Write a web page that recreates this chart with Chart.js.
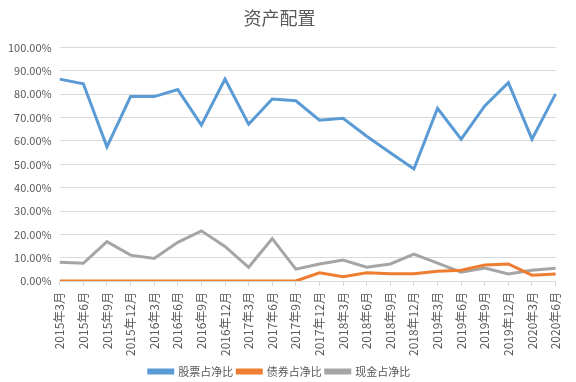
<!DOCTYPE html>
<html>
<head>
<meta charset="utf-8">
<script src="https://cdn.jsdelivr.net/npm/chart.js@4/dist/chart.umd.min.js"></script>
<style>
  html, body { margin: 0; padding: 0; background: #fff; }
  #wrap { width: 576px; height: 382px; }
</style>
</head>
<body>
<div id="wrap"><canvas id="chartCanvas" width="576" height="382"></canvas></div>
<script>
// quarters on the x axis
const categories = [
  '2015年3月', '2015年6月', '2015年9月', '2015年12月',
  '2016年3月', '2016年6月', '2016年9月', '2016年12月',
  '2017年3月', '2017年6月', '2017年9月', '2017年12月',
  '2018年3月', '2018年6月', '2018年9月', '2018年12月',
  '2019年3月', '2019年6月', '2019年9月', '2019年12月',
  '2020年3月', '2020年6月'
];

// values in percent
const stockRatio = [86.5, 84.5, 57.5, 79, 79, 82, 66.8, 86.5, 67.2, 78, 77.2,
  68.9, 69.7, 62, 55, 48, 74, 60.8, 75, 85, 60.8, 80.2];
const bondRatio = [0, 0, 0, 0, 0, 0, 0, 0, 0, 0, 0,
  3.5, 1.8, 3.5, 3.1, 3.1, 4.2, 4.6, 6.9, 7.3, 2.5, 3.0];
const cashRatio = [8.0, 7.6, 16.9, 11.1, 9.7, 16.6, 21.5, 14.8, 5.9, 18.2, 5.1,
  7.3, 9.0, 5.9, 7.3, 11.5, 7.7, 3.8, 5.6, 3.0, 4.6, 5.5];

const seriesNames = ['股票占净比', '债券占净比', '现金占净比'];
const colors = ['#5B9BD5', '#ED7D31', '#A5A5A5'];

const font = "'Noto Sans CJK SC', 'Liberation Sans', sans-serif";
const textColor = '#595959';

function makeSet(label, data, color) {
  return {
    label: label,
    data: data,
    borderColor: color,
    backgroundColor: color,
    borderWidth: 3,
    pointRadius: 0,
    tension: 0,
    fill: false
  };
}

const ctx = document.getElementById('chartCanvas').getContext('2d');
new Chart(ctx, {
  type: 'line',
  data: {
    labels: categories,
    datasets: [
      makeSet(seriesNames[0], stockRatio, colors[0]),
      makeSet(seriesNames[1], bondRatio, colors[1]),
      makeSet(seriesNames[2], cashRatio, colors[2])
    ]
  },
  options: {
    responsive: false,
    animation: false,
    layout: { padding: { left: 0, right: 17, top: 3, bottom: -5 } },
    plugins: {
      title: {
        display: true,
        text: '资产配置',
        color: textColor,
        font: { family: font, size: 18, weight: 'normal' },
        padding: { top: 4, bottom: 19 }
      },
      legend: {
        position: 'bottom',
        labels: {
          color: textColor,
          font: { family: font, size: 11 },
          boxWidth: 24,
          boxHeight: 3,
          padding: 4
        }
      },
      tooltip: { enabled: false }
    },
    scales: {
      x: {
        offset: false,
        grid: { drawOnChartArea: false, drawTicks: true, tickLength: 5, color: '#d9d9d9' },
        border: { color: '#d9d9d9' },
        ticks: {
          color: textColor,
          font: { family: font, size: 12 },
          minRotation: 90,
          maxRotation: 90,
          autoSkip: false,
          padding: 6
        }
      },
      y: {
        min: 0,
        max: 100,
        grid: { color: '#d9d9d9', drawTicks: false },
        border: { display: false },
        ticks: {
          stepSize: 10,
          color: textColor,
          font: { family: font, size: 11 },
          padding: 8,
          callback: v => v.toFixed(2) + '%'
        }
      }
    }
  }
});
</script>
</body>
</html>
